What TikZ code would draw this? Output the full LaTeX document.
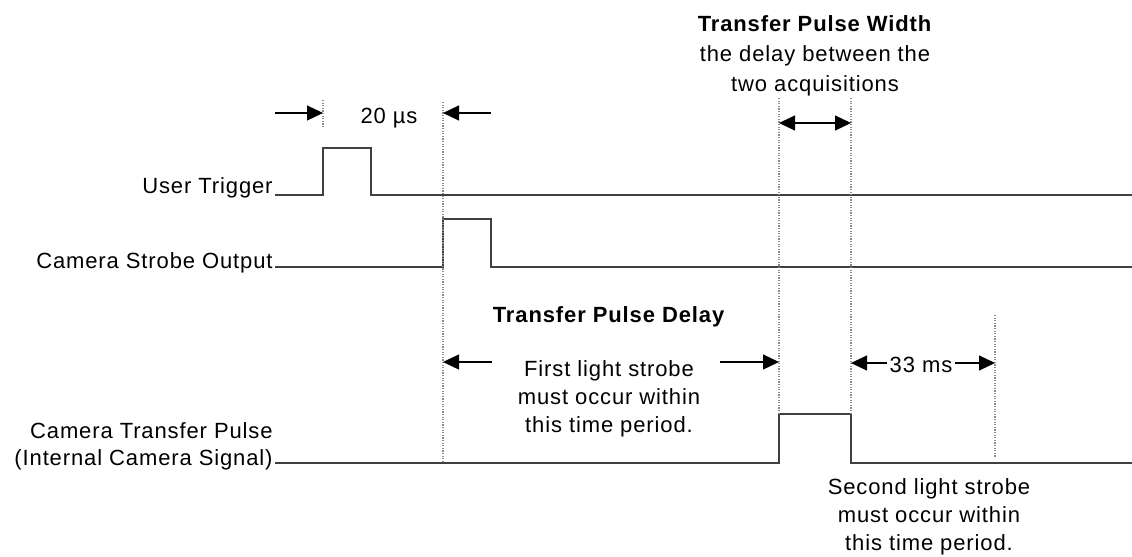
\documentclass[tikz,border=0pt]{standalone}
\usepackage{fontspec}
\setmainfont{Liberation Sans}[LetterSpace=4]
\usetikzlibrary{arrows.meta,positioning}

\tikzset{
    wave/.style={line width=0.7pt, black!75},
    guide/.style={black!45, line width=0.6pt, dash pattern=on 0.6pt off 0.7pt},
    tip/.tip={Triangle[length=8pt,width=7.5pt]},
    dim/.style={-tip, line width=0.6pt},
    sig/.style={anchor=base east, inner sep=0pt, align=right, font=\fontsize{11}{13.5}\selectfont},
    note/.style={inner sep=0pt, align=center, font=\fontsize{11}{14}\selectfont}
}

\begin{document}
\begin{tikzpicture}[x=0.5pt, y=-0.5pt]
    \useasboundingbox (0,0) rectangle (1132,557);

    % Time marks
    \coordinate (t0) at (323,0);
    \coordinate (t1) at (371,0);
    \coordinate (t2) at (443,0);
    \coordinate (t3) at (491,0);
    \coordinate (t4) at (779,0);
    \coordinate (t5) at (851,0);
    \coordinate (t6) at (995,0);

    % Signal names
    \node[sig] (trig) at (273,193) {User Trigger};
    \node[sig] (strobe) at (273,268) {Camera Strobe Output};
    \node[sig] (xfer) at (273,465) {Camera Transfer Pulse\\(Internal Camera Signal)};

    % Waveforms
    \draw[wave] (275,195) -- (t0 |- 0,195) -- (t0 |- 0,148) -- (t1 |- 0,148) -- (t1 |- 0,195) -- (1132,195);
    \draw[wave] (275,267) -- (t2 |- 0,267) -- (t2 |- 0,219) -- (t3 |- 0,219) -- (t3 |- 0,267) -- (1132,267);
    \draw[wave] (275,463) -- (t4 |- 0,463) -- (t4 |- 0,414) -- (t5 |- 0,414) -- (t5 |- 0,463) -- (1132,463);

    % Dotted guides
    \draw[guide] (t0 |- 0,100) -- (t0 |- 0,127);
    \draw[guide] (t2 |- 0,102) -- (t2 |- 0,462);
    \draw[guide] (t4 |- 0,98) -- (t4 |- 0,413);
    \draw[guide] (t5 |- 0,98) -- (t5 |- 0,413);
    \draw[guide] (t6 |- 0,315) -- (t6 |- 0,458);

    % 20 us
    \node[note, anchor=base] (trigdelay) at (389,123) {20 µs};
    \coordinate (a0) at (275,113);
    \coordinate (a1) at (491,113);
    \draw[dim] (a0) -- (t0 |- a0);
    \draw[dim] (a1) -- (t2 |- a1);

    % Transfer Pulse Width
    \node[note, anchor=north, font=\fontsize{11}{15}\selectfont] (width) at (815,15)
        {\textbf{Transfer Pulse Width}\\the delay between the\\two acquisitions};
    \coordinate (w0) at (779,123);
    \draw[dim, tip-tip] (w0) -- (t5 |- w0);

    % Transfer Pulse Delay
    \node[note, anchor=base] (delay) at (609,322) {\textbf{Transfer Pulse Delay}};
    \node[note, anchor=north] (first) at (609,360) {First light strobe\\must occur within\\this time period.};
    \coordinate (d0) at (492,362);
    \coordinate (d1) at (720,362);
    \draw[dim] (d0) -- (t2 |- d0);
    \draw[dim] (d1) -- (t4 |- d1);

    % 33 ms
    \node[note, anchor=base] (frame) at (921,372) {33 ms};
    \draw[dim] (frame.west |- 0,363) ++(-2,0) coordinate (f0) -- (t5 |- f0);
    \draw[dim] (frame.east |- 0,363) ++(2,0) coordinate (f1) -- (t6 |- f1);

    % Second strobe
    \node[note, anchor=north] (second) at (929,478) {Second light strobe\\must occur within\\this time period.};

\end{tikzpicture}
\end{document}
